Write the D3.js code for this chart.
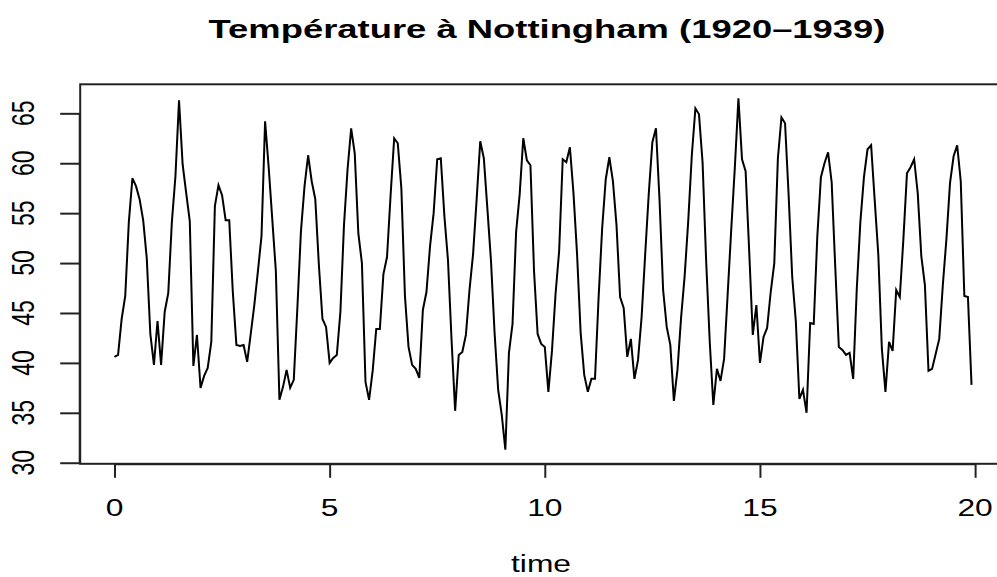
<!DOCTYPE html>
<html>
<head>
<meta charset="utf-8">
<script src="https://cdn.jsdelivr.net/npm/d3@7"></script>
<style>
  html, body { margin: 0; padding: 0; background: #ffffff; }
  svg { display: block; }
  text { font-family: "Liberation Sans", Arial, Helvetica, sans-serif; fill: #000; }
</style>
</head>
<body>
<svg id="chart" width="997" height="577"></svg>
<script>
// Monthly mean temperatures at Nottingham Castle (°F), 1920–1939
const temps1920 = [40.6, 40.8, 44.4, 46.7, 54.1, 58.5, 57.7, 56.4, 54.3, 50.5, 42.9, 39.8];
const temps1921 = [44.2, 39.8, 45.1, 47.0, 54.1, 58.7, 66.3, 59.9, 57.0, 54.2, 39.7, 42.8];
const temps1922 = [37.5, 38.7, 39.5, 42.1, 55.7, 57.8, 56.8, 54.3, 54.3, 47.1, 41.8, 41.7];
const temps1923 = [41.8, 40.1, 42.9, 45.8, 49.2, 52.7, 64.2, 59.6, 54.4, 49.2, 36.3, 37.6];
const temps1924 = [39.3, 37.5, 38.3, 45.5, 53.2, 57.7, 60.8, 58.2, 56.4, 49.8, 44.4, 43.6];
const temps1925 = [40.0, 40.5, 40.8, 45.1, 53.8, 59.4, 63.5, 61.0, 53.0, 50.0, 38.1, 36.3];
const temps1926 = [39.2, 43.4, 43.4, 48.9, 50.6, 56.8, 62.5, 62.0, 57.5, 46.7, 41.6, 39.8];
const temps1927 = [39.4, 38.5, 45.3, 47.1, 51.7, 55.0, 60.4, 60.5, 54.7, 50.3, 42.3, 35.2];
const temps1928 = [40.8, 41.1, 42.8, 47.3, 50.9, 56.4, 62.2, 60.5, 55.4, 50.2, 43.0, 37.3];
const temps1929 = [34.8, 31.3, 41.0, 43.9, 53.1, 56.9, 62.5, 60.3, 59.8, 49.2, 42.9, 41.9];
const temps1930 = [41.6, 37.1, 41.2, 46.9, 51.2, 60.4, 60.1, 61.6, 57.0, 50.9, 43.0, 38.8];
const temps1931 = [37.1, 38.4, 38.4, 46.5, 53.5, 58.4, 60.6, 58.2, 53.8, 46.6, 45.5, 40.6];
const temps1932 = [42.4, 38.4, 40.3, 44.6, 50.9, 57.0, 62.1, 63.5, 56.3, 47.3, 43.6, 41.8];
const temps1933 = [36.2, 39.3, 44.5, 48.7, 54.2, 60.8, 65.5, 64.9, 60.1, 50.2, 42.1, 35.8];
const temps1934 = [39.4, 38.2, 40.4, 46.9, 53.4, 59.6, 66.5, 60.4, 59.2, 51.2, 42.8, 45.8];
const temps1935 = [40.0, 42.6, 43.5, 47.1, 50.0, 60.5, 64.6, 64.0, 56.8, 48.6, 44.2, 36.4];
const temps1936 = [37.3, 35.0, 44.0, 43.9, 52.7, 58.6, 60.0, 61.1, 58.1, 49.6, 41.6, 41.3];
const temps1937 = [40.8, 41.0, 38.4, 47.4, 54.1, 58.6, 61.4, 61.8, 56.3, 50.9, 41.4, 37.1];
const temps1938 = [42.1, 41.2, 47.3, 46.6, 52.4, 59.0, 59.6, 60.4, 57.0, 50.7, 47.8, 39.2];
const temps1939 = [39.4, 40.9, 42.4, 47.8, 52.4, 58.0, 60.7, 61.8, 58.2, 46.7, 46.6, 37.8];

const yearlyTemps = [temps1920, temps1921, temps1922, temps1923, temps1924,
                     temps1925, temps1926, temps1927, temps1928, temps1929,
                     temps1930, temps1931, temps1932, temps1933, temps1934,
                     temps1935, temps1936, temps1937, temps1938, temps1939];

const xTickValues = [0, 5, 10, 15, 20];
const yTickValues = [30, 35, 40, 45, 50, 55, 60, 65];
const titleText = "Température à Nottingham (1920–1939)";
const xLabelText = "time";

// build series: time measured in years since start, monthly steps
const series = [];
yearlyTemps.forEach((arr, yi) => arr.forEach((v, mi) => series.push({ t: yi + mi / 12, v: v })));

const svg = d3.select("#chart");
const KX = 1.38;      // horizontal stretch of glyphs (reference is stretched)
const KX_TITLE = 1.40;

// R-style 4% axis extension
const tExt = d3.extent(series, d => d.t);
const vExt = d3.extent(series, d => d.v);
const tPad = (tExt[1] - tExt[0]) * 0.04;
const vPad = (vExt[1] - vExt[0]) * 0.04;

const plotLeft = 80.2, plotRight = 1005.8, plotTop = 84.3, plotBottom = 463.8;

const x = d3.scaleLinear().domain([tExt[0] - tPad, tExt[1] + tPad]).range([plotLeft, plotRight]);
const y = d3.scaleLinear().domain([vExt[0] - vPad, vExt[1] + vPad]).range([plotBottom, plotTop]);

// data line
const line = d3.line().x(d => x(d.t)).y(d => y(d.v));
svg.append("path")
  .datum(series)
  .attr("d", line)
  .attr("fill", "none")
  .attr("stroke", "#000")
  .attr("stroke-width", 2)
  .attr("stroke-linejoin", "miter");

// box
svg.append("rect")
  .attr("x", plotLeft).attr("y", plotTop)
  .attr("width", plotRight - plotLeft).attr("height", plotBottom - plotTop)
  .attr("fill", "none").attr("stroke", "#222").attr("stroke-width", 2);

// x axis
const xAxis = d3.axisBottom(x).tickValues(xTickValues).tickSize(14).tickFormat(() => "");
const gx = svg.append("g").attr("transform", `translate(0,${plotBottom})`).call(xAxis);
gx.select(".domain").attr("d", `M${x(xTickValues[0])},0.5H${x(xTickValues[xTickValues.length-1])}`)
  .attr("stroke", "#222").attr("stroke-width", 2);
gx.selectAll(".tick line").attr("stroke", "#222").attr("stroke-width", 2);
gx.selectAll(".tick text").remove();
svg.append("g").selectAll("text").data(xTickValues).join("text")
  .attr("transform", d => `translate(${x(d)},515.5) scale(${KX},1)`)
  .attr("text-anchor", "middle")
  .style("font-size", "23px")
  .text(d => d);

// y axis
const yAxis = d3.axisLeft(y).tickValues(yTickValues).tickSize(20).tickFormat(() => "");
const gy = svg.append("g").attr("transform", `translate(${plotLeft},0)`).call(yAxis);
gy.select(".domain").attr("d", `M-0.5,${y(yTickValues[0])}V${y(yTickValues[yTickValues.length-1])}`)
  .attr("stroke", "#222").attr("stroke-width", 2);
gy.selectAll(".tick line").attr("stroke", "#222").attr("stroke-width", 2);
svg.append("g").selectAll("text").data(yTickValues).join("text")
  .attr("transform", d => `translate(33.5,${y(d)}) scale(${KX},1) rotate(-90)`)
  .attr("text-anchor", "middle")
  .style("font-size", "23px")
  .text(d => d);

// title
svg.append("text")
  .attr("transform", `translate(547,38) scale(${KX_TITLE},1)`)
  .attr("text-anchor", "middle")
  .style("font-size", "26px")
  .style("font-weight", "bold")
  .text(titleText);

// x label
svg.append("text")
  .attr("transform", `translate(541,572) scale(${KX},1)`)
  .attr("text-anchor", "middle")
  .style("font-size", "23px")
  .text(xLabelText);
</script>
</body>
</html>
